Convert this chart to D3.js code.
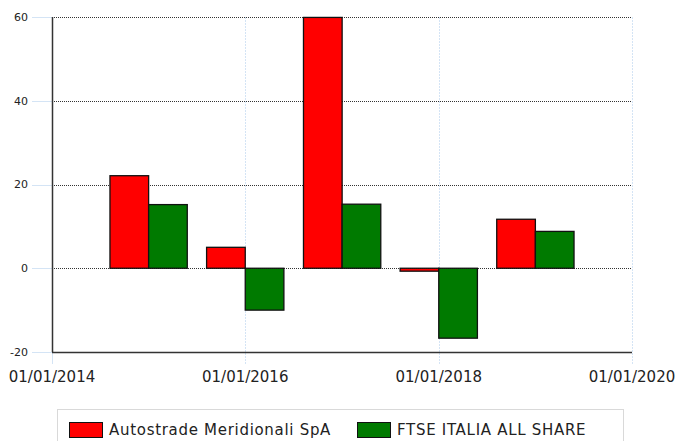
<!DOCTYPE html>
<html>
<head>
<meta charset="utf-8">
<script src="https://cdn.jsdelivr.net/npm/d3@7"></script>
<style>
  body { margin: 0; background: #fff; }
  svg { display: block; }
  text { font-family: "DejaVu Sans", Verdana, sans-serif; }
</style>
</head>
<body>
<div id="chart"></div>
<script>
// values (yearly performance, %)
const years = [2015, 2016, 2017, 2018, 2019];
const autostrade = [22.1, 5.0, 59.9, -0.7, 11.7];
const ftse = [15.2, -10.0, 15.3, -16.7, 8.8];
const seriesNames = ['Autostrade Meridionali SpA', 'FTSE ITALIA ALL SHARE'];
const seriesColors = ['#ff0000', '#007a00'];
const yTicks = [-20, 0, 20, 40, 60];
const xTickDates = ['2014-01-01', '2016-01-01', '2018-01-01', '2020-01-01'];

const width = 675, height = 441;
const margin = {top: 17, right: 43, bottom: 89, left: 52};
const plotW = width - margin.left - margin.right;
const plotH = height - margin.top - margin.bottom;
const barDays = 146;
const parse = d3.timeParse('%Y-%m-%d');
const fmt = d3.timeFormat('%d/%m/%Y');

const svg = d3.select('#chart').append('svg')
    .attr('width', width)
    .attr('height', height);

const g = svg.append('g')
    .attr('transform', 'translate(' + margin.left + ',' + margin.top + ')');

const xScale = d3.scaleTime()
    .domain([parse('2014-01-01'), parse('2020-01-01')])
    .range([0, plotW]);
const yScale = d3.scaleLinear()
    .domain([-20, 60])
    .range([plotH, 0]);

// light blue vertical grid / ticks
const xTicks = xTickDates.map(parse);
g.selectAll('.vgrid')
    .data(xTicks)
    .join('line')
    .attr('class', 'vgrid')
    .attr('x1', d => Math.round(xScale(d)) + 0.5)
    .attr('x2', d => Math.round(xScale(d)) + 0.5)
    .attr('y1', (d, i) => i === 0 ? plotH : 0)
    .attr('y2', plotH + 12)
    .attr('stroke', '#d4e4f5')
    .attr('stroke-dasharray', (d, i) => i === 0 ? null : '2,1');

// y ticks (light blue, left of axis)
g.selectAll('.ytick')
    .data(yTicks)
    .join('line')
    .attr('class', 'ytick')
    .attr('x1', -20)
    .attr('x2', 0)
    .attr('y1', d => Math.round(yScale(d)) + 0.5)
    .attr('y2', d => Math.round(yScale(d)) + 0.5)
    .attr('stroke', '#d4e4f5');

// horizontal dotted gridlines
g.selectAll('.hgrid')
    .data(yTicks.filter(d => d > -20))
    .join('line')
    .attr('class', 'hgrid')
    .attr('x1', 0)
    .attr('x2', plotW)
    .attr('y1', d => Math.round(yScale(d)) + 0.5)
    .attr('y2', d => Math.round(yScale(d)) + 0.5)
    .attr('stroke', '#333')
    .attr('stroke-dasharray', '1,1');

// bars
const rows = [];
years.forEach((yr, i) => {
    const center = parse(yr + '-01-01');
    rows.push({s: 0, x0: d3.timeDay.offset(center, -barDays), x1: center, v: autostrade[i]});
    rows.push({s: 1, x0: center, x1: d3.timeDay.offset(center, barDays), v: ftse[i]});
});

g.selectAll('.bar')
    .data(rows)
    .join('rect')
    .attr('class', 'bar')
    .attr('x', d => xScale(d.x0))
    .attr('width', d => xScale(d.x1) - xScale(d.x0))
    .attr('y', d => yScale(Math.max(0, d.v)))
    .attr('height', d => Math.abs(yScale(d.v) - yScale(0)))
    .attr('fill', d => seriesColors[d.s])
    .attr('stroke', '#111')
    .attr('stroke-width', 1.3);

// axis lines
g.append('line')
    .attr('x1', 0.5).attr('x2', 0.5)
    .attr('y1', 0).attr('y2', plotH)
    .attr('stroke', '#333').attr('stroke-width', 1.5);
g.append('line')
    .attr('x1', 0).attr('x2', plotW)
    .attr('y1', plotH + 0.5).attr('y2', plotH + 0.5)
    .attr('stroke', '#333').attr('stroke-width', 1.5);

// y labels
g.selectAll('.ylabel')
    .data(yTicks)
    .join('text')
    .attr('class', 'ylabel')
    .attr('x', -24)
    .attr('y', d => yScale(d))
    .attr('dy', '0.35em')
    .attr('text-anchor', 'end')
    .style('font-size', '11px')
    .attr('fill', '#222')
    .text(d => d);

// x labels
g.selectAll('.xlabel')
    .data(xTicks)
    .join('text')
    .attr('class', 'xlabel')
    .attr('x', d => xScale(d))
    .attr('y', plotH + 30)
    .attr('text-anchor', 'middle')
    .style('font-size', '15px')
    .attr('fill', '#222')
    .text(d => fmt(d));

// legend
const legend = svg.append('g');
legend.append('rect')
    .attr('x', 57.5).attr('y', 409.5)
    .attr('width', 566).attr('height', 40)
    .attr('fill', '#fff')
    .attr('stroke', '#d9d9d9');

const legendX = [69, 357];
seriesNames.forEach((name, i) => {
    legend.append('rect')
        .attr('x', legendX[i] + 0.5).attr('y', 422.5)
        .attr('width', 33).attr('height', 15)
        .attr('fill', seriesColors[i])
        .attr('stroke', '#111');
    legend.append('text')
        .attr('x', legendX[i] + 40)
        .attr('y', 435)
        .style('font-size', '15px')
        .style('letter-spacing', '0.7px')
        .attr('fill', '#222')
        .text(name);
});
</script>
</body>
</html>
